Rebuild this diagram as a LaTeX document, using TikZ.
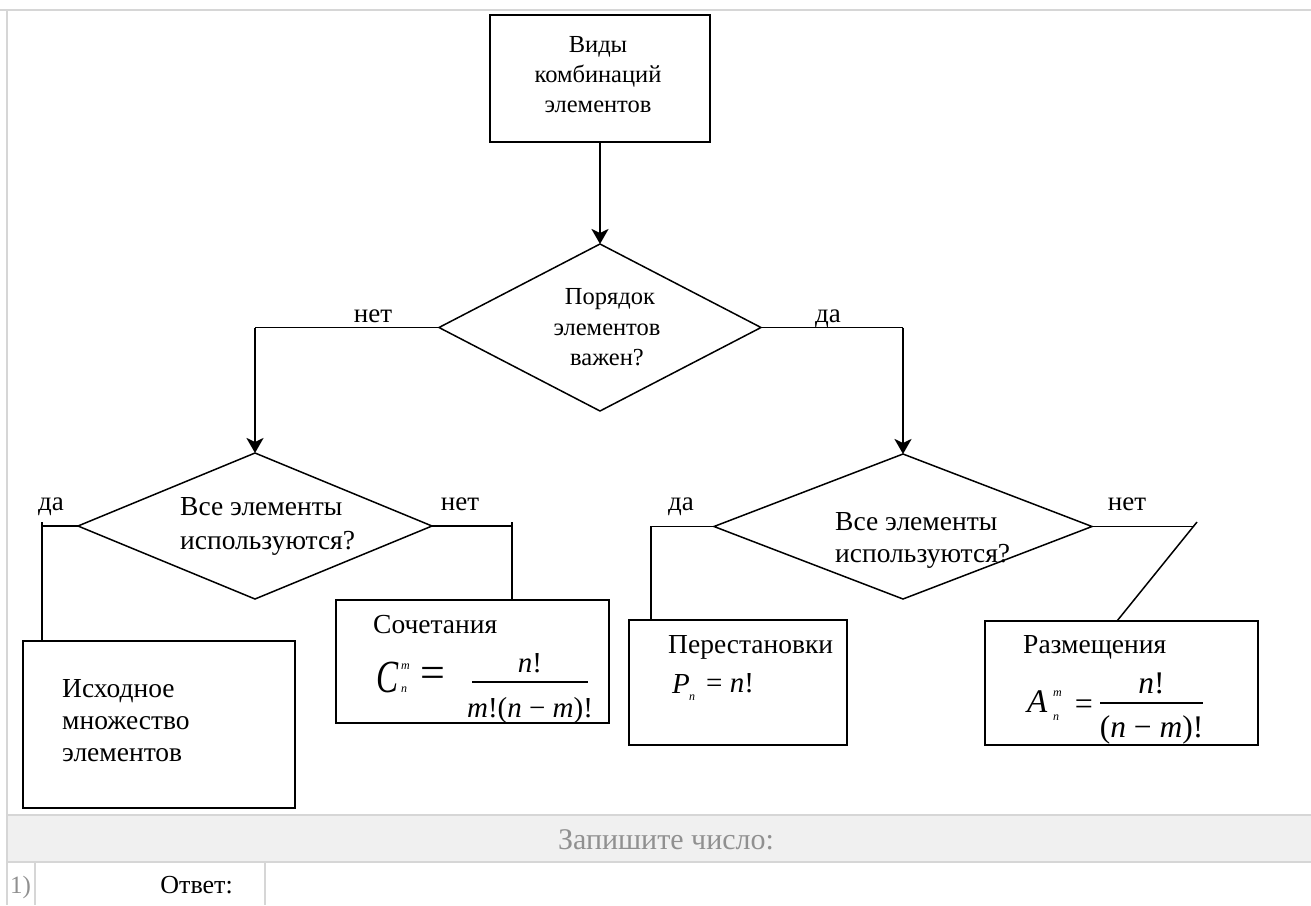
\documentclass[tikz,border=0pt]{standalone}
\usepackage{fontspec}
\usepackage{graphicx}
\setmainfont{Liberation Serif}
\usetikzlibrary{arrows.meta,shapes.geometric}
\definecolor{framegray}{HTML}{D6D6D6}
\definecolor{bandgray}{HTML}{F0F0F0}
\definecolor{labelgray}{HTML}{909090}
\newcommand\midtxt{\fontsize{24.5}{30}\selectfont}
\newcommand\bigtxt{\fontsize{27.5}{32}\selectfont}
\newcommand\lbltxt{\fontsize{27}{32}\selectfont}
\newcommand\fmltxt{\fontsize{29}{34}\selectfont}
\newcommand\fmlbig{\fontsize{31.5}{36}\selectfont}
\newcommand\tinytxt{\fontsize{12}{13}\selectfont\itshape}
\begin{document}
\begin{tikzpicture}[x=1pt,y=-1pt,
  box/.style={draw, line width=1.5pt, inner sep=0pt, outer sep=0pt},
  diam/.style={draw, diamond, line width=1.5pt, inner sep=0pt, outer sep=0pt},
  conn/.style={line width=1.5pt},
  flow/.style={line width=2.6pt, -{Stealth[length=15pt,width=17pt,inset=4pt]}},
  mtxt/.style={font=\midtxt, inner sep=0pt, anchor=base},
  ltxt/.style={font=\bigtxt, inner sep=0pt, anchor=base west},
  lbl/.style={font=\lbltxt, inner sep=0pt, anchor=base},
  fml/.style={font=\fmltxt, inner sep=0pt, anchor=base},
  fmll/.style={font=\fmltxt, inner sep=0pt, anchor=base west},
  idx/.style={font=\tinytxt, inner sep=0pt, anchor=base west},
  frame/.style={draw=framegray, line width=1.5pt},
  bar/.style={line width=1.3pt}
]
\useasboundingbox (0,0) rectangle (1311,905);

% ---- page frame ----
\fill[bandgray] (7,815) rectangle (1311,862);
\draw[frame, line width=2.2pt] (0,10) -- (1311,10);
\draw[frame] (7,10) -- (7,905);
\draw[frame] (7,815) -- (1311,815);
\draw[frame] (7,862) -- (1311,862);
\draw[frame] (35,862) -- (35,905);
\draw[frame] (265,862) -- (265,905);
\node[font=\fontsize{30}{32}\selectfont, text=labelgray, inner sep=0pt, anchor=base] (ask) at (666,849) {Запишите число:};
\node[font=\fontsize{25}{28}\selectfont, text=labelgray, inner sep=0pt, anchor=base west] (num) at (10,893) {1)};
\node[font=\fontsize{26}{28}\selectfont, inner sep=0pt, anchor=base east] (ans) at (233,893) {Ответ:};

% ---- shapes ----
\node[box, minimum width=220pt, minimum height=127pt] (top) at (600,78.5) {};
\node[diam, minimum width=322pt, minimum height=167pt] (bd) at (600,327.5) {};
\node[diam, minimum width=354pt, minimum height=146pt] (ld) at (255,526) {};
\node[diam, minimum width=378pt, minimum height=145pt] (rd) at (903,526.5) {};
\node[box, minimum width=272pt, minimum height=167pt] (ib) at (159,724.5) {};
\node[box, minimum width=273pt, minimum height=123pt] (sb) at (472.5,661.5) {};
\node[box, minimum width=218pt, minimum height=125pt] (pb) at (738,682.5) {};
\node[box, minimum width=273pt, minimum height=124pt] (rb) at (1121.5,683) {};

% ---- texts ----
\node[mtxt] (t1) at (598,52) {Виды};
\node[mtxt] (t2) at (598,82) {комбинаций};
\node[mtxt] (t3) at (598,112) {элементов};
\node[mtxt] (b1) at (610,304) {Порядок};
\node[mtxt] (b2) at (607,335) {элементов};
\node[mtxt] (b3) at (607,365) {важен?};
\node[ltxt] (l1) at (180,515) {Все элементы};
\node[ltxt] (l2) at (180,549) {используются?};
\node[ltxt] (r1) at (835,530) {Все элементы};
\node[ltxt] (r2) at (835,562) {используются?};
\node[ltxt] (i1) at (62,697) {Исходное};
\node[ltxt] (i2) at (62,729) {множество};
\node[ltxt] (i3) at (62,761) {элементов};
\node[ltxt] (s1) at (373,633) {Сочетания};
\node[ltxt] (p1) at (668,653) {Перестановки};
\node[ltxt] (z1) at (1023,653) {Размещения};

% ---- labels ----
\node[lbl] (no1) at (373,322) {нет};
\node[lbl] (yes1) at (828,322) {да};
\node[lbl] (yes2) at (51,510) {да};
\node[lbl] (no2) at (460,510) {нет};
\node[lbl] (yes3) at (681,510) {да};
\node[lbl] (no3) at (1127,510) {нет};

% ---- formulas ----
% C_n^m = n!/(m!(n-m)!)
\node[font=\fontsize{46}{50}\selectfont\itshape, inner sep=0pt, anchor=base west] (cC) at (376,692) {\scalebox{0.72}[1]{C}};
\node[idx] (cm) at (401,669) {m};
\node[idx] (cn) at (401,692) {n};
\node[font=\fontsize{44}{46}\selectfont, inner sep=0pt, anchor=center] (ceq) at (432.5,677) {=};
\draw[bar] (472,682) coordinate (cb1) -- (588,682) coordinate (cb2);
\node[fml] (cnum) at (530,672) {\textit{n}!};
\node[fml] (cden) at (530,717) {\textit{m}!(\textit{n} − \textit{m})!};
% P_n = n!
\node[fmll] (pP) at (672,693) {\textit{P}};
\node[idx] (pn) at (689,700) {n};
\node[fmll] (peq) at (706,692) {= \textit{n}!};
% A_n^m = n!/(n-m)!
\node[font=\fontsize{33}{36}\selectfont\itshape, inner sep=0pt, anchor=base west] (aA) at (1027,712) {A};
\node[idx] (am) at (1053,696) {m};
\node[idx] (an) at (1053,720) {n};
\node[font=\fontsize{32}{34}\selectfont, inner sep=0pt, anchor=center] (aeq) at (1084,707) {=};
\draw[bar] (1100,703) coordinate (ab1) -- (1203,703) coordinate (ab2);
\node[font=\fmlbig, inner sep=0pt, anchor=base] (anum) at (1151.5,693) {\textit{n}!};
\node[font=\fmlbig, inner sep=0pt, anchor=base] (aden) at (1151.5,737) {(\textit{n} − \textit{m})!};

% ---- connectors ----
\draw[flow] (top.south -| bd.north) -- (bd.north);
\coordinate (bl) at (bd.west -| ld.north);
\coordinate (br) at (bd.east -| rd.north);
\draw[conn] (bd.west) -- (bl);
\draw[flow] (bl) -- (ld.north);
\draw[conn] (bd.east) -- (br);
\draw[flow] (br) -- (rd.north);

\coordinate (lc1) at (42,526);
\draw[conn] (ld.west) -- (lc1);
\draw[conn] ([yshift=4pt]lc1) -- (lc1 |- ib.north);
\coordinate (lc2) at (512,526);
\draw[conn] (ld.east) -- (lc2);
\draw[conn] ([yshift=4pt]lc2) -- (lc2 |- sb.north);

\coordinate (rc1) at (651,526.5);
\draw[conn] (rd.west) -- (rc1) -- (rc1 |- pb.north);
\coordinate (rc2) at (1194,526.5);
\coordinate (rc2t) at (1197,522);
\coordinate (rbt) at (1117,621);
\draw[conn] (rd.east) -- (rc2);
\draw[conn] (rc2t) -- (rbt);
\end{tikzpicture}
\end{document}
